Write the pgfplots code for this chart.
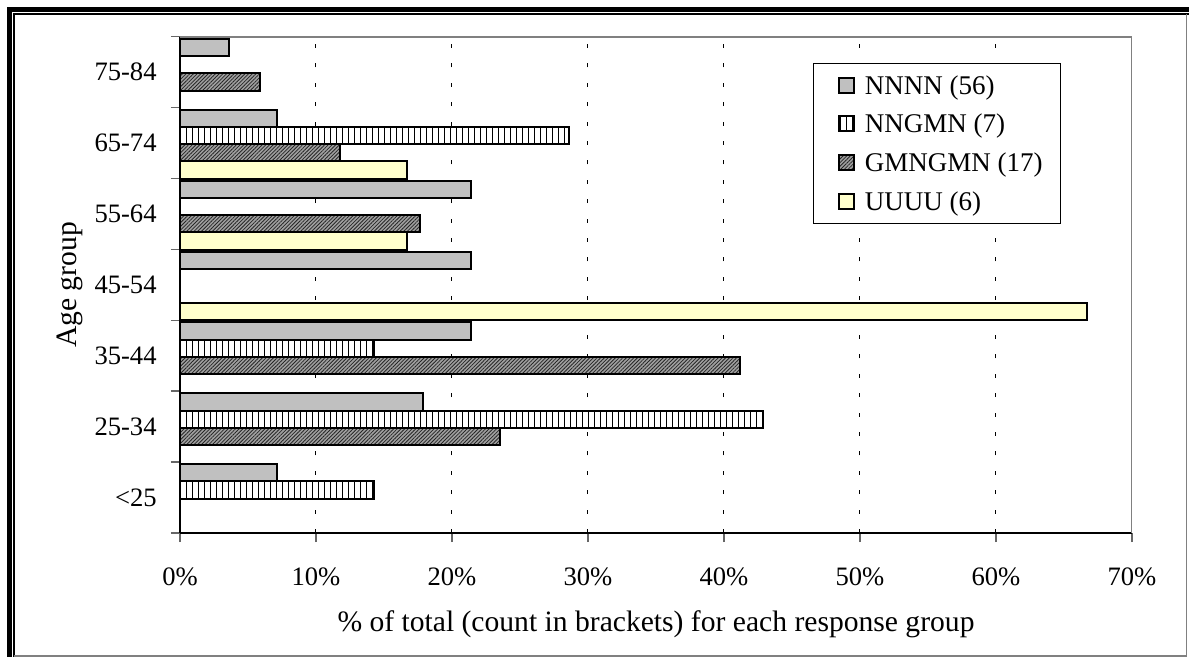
\documentclass[border=0pt]{standalone}
\usepackage{fontspec}
\setmainfont{Liberation Serif}
\usepackage{pgfplots}
\pgfplotsset{compat=1.18}
\usetikzlibrary{patterns.meta}
\definecolor{nnnn}{HTML}{C0C0C0}
\definecolor{uuuu}{HTML}{FFFFCC}
\definecolor{gmn}{HTML}{A0A0A0}
\definecolor{bordergray}{HTML}{808080}
\pgfplotsset{
  sq/.style={xbar, bar width=0.243, line width=1bp, draw=black,
    legend image code/.code={\path (0bp,0bp); \draw[##1] (3.3bp,-3.75bp) rectangle (10.8bp,3.75bp);}},
}
\begin{document}
\begin{tikzpicture}[font=\fontsize{13.3bp}{16bp}\selectfont]
\useasboundingbox (0,0) rectangle (594.5bp,328.5bp);
\fill[white] (0,0) rectangle (594.5bp,328.5bp);
\draw[black, line width=2.5bp] (4.75bp,0) -- (4.75bp,323.75bp) -- (594.5bp,323.75bp);
\draw[black, line width=0.75bp] (7bp,0) -- (7bp,321.5bp) -- (594.5bp,321.5bp);
\draw[bordergray, line width=0.75bp] (7bp,0.5bp) -- (593.35bp,0.5bp) -- (593.35bp,321.5bp);
\begin{axis}[
  at={(90bp,62bp)}, anchor=south west,
  scale only axis, width=476bp, height=248.15bp,
  xmin=0, xmax=70, ymin=-0.5, ymax=6.5,
  axis lines*=left,
  axis line style={black, line width=0.75bp},
  tick align=outside,
  major tick length=4.5bp,
  tick style={draw=black!60, line width=0.75bp},
  xtick={0,10,...,70},
  xticklabels={0\%,10\%,20\%,30\%,40\%,50\%,60\%,70\%},
  xticklabel style={anchor=north, inner sep=0pt},
  xticklabel shift=12.5bp,
  ytick={-0.5,0.5,...,6.5},
  yticklabels={},
  extra y ticks={0,1,2,3,4,5,6},
  extra y tick labels={<25,25-34,35-44,45-54,55-64,65-74,75-84},
  extra y tick style={major tick length=0pt},
  yticklabel style={anchor=east, inner sep=0pt},
  yticklabel shift=11.5bp,
  xmajorgrids,
  major grid style={black, line width=0.5bp, dash pattern=on 2bp off 7.7bp},
  xlabel={\% of total (count in brackets) for each response group},
  xlabel style={at={([yshift=-49.3bp]axis description cs:0.5,0)}, anchor=base, inner sep=0pt,
    font=\fontsize{14.8bp}{17bp}\selectfont},
  ylabel={Age group},
  ylabel style={at={([xshift=-51.8bp]axis description cs:0,0.5)}, anchor=base, inner sep=0pt,
    font=\fontsize{14.8bp}{17bp}\selectfont},
  legend cell align=left,
  legend style={at={(0.6646,0.9476)}, anchor=north west, draw=black, line width=0.5bp,
    inner xsep=9bp, inner ysep=5bp, row sep=7.35bp,
    font=\fontsize{13.5bp}{16bp}\selectfont,
    nodes={inner sep=0pt, text height=10.5bp, text depth=1.5bp},
    /tikz/every odd column/.style={column sep=5bp}},
]
\addplot[sq, fill=nnnn, bar shift=0.348] coordinates {
  (7.14,0) (17.86,1) (21.43,2) (21.43,3) (21.43,4) (7.14,5) (3.57,6)};
\addplot[sq, fill=white, bar shift=0.105,
  postaction={pattern={Lines[angle=90, distance=3bp, line width=0.5bp]}, pattern color=black}] coordinates {
  (14.29,0) (42.86,1) (14.29,2) (28.57,5)};
\addplot[sq, fill=gmn, bar shift=-0.139,
  postaction={pattern={Lines[angle=45, distance=1.3bp, line width=0.4bp]}, pattern color=black!85}] coordinates {
  (23.53,1) (41.18,2) (17.65,4) (11.76,5) (5.88,6)};
\addplot[sq, fill=uuuu, bar shift=-0.381] coordinates {
  (66.67,3) (16.67,4) (16.67,5)};
\legend{NNNN (56), NNGMN (7), GMNGMN (17), UUUU (6)}
\draw[bordergray, line width=1bp] (rel axis cs:0,1) -- (rel axis cs:1,1) -- (rel axis cs:1,0);
\end{axis}
\end{tikzpicture}
\end{document}
